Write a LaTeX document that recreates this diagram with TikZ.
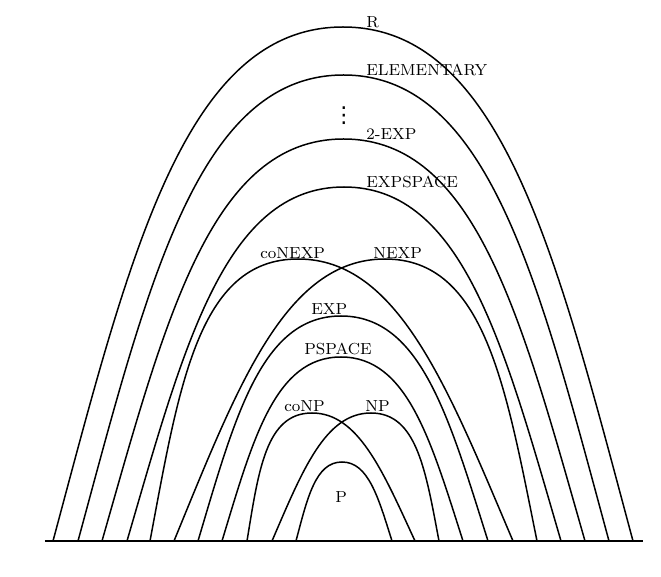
\documentclass[tikz,border=0pt]{standalone}
\usepackage{fontspec}
\newfontfamily\dvsfont{DejaVu Sans}
\begin{document}
\begin{tikzpicture}[x=0.5pt,y=-0.5pt,
  arcline/.style={line width=0.75pt,line join=round},
  lbl/.style={inner sep=0pt,anchor=base west,font=\fontsize{8}{10}\selectfont}]
\useasboundingbox (0,0) rectangle (661,577);
% #1 left foot, #2 right foot, #3 y of top, #4 sideways shift of the top
\newcommand{\cxarc}[4]{%
  \draw[arcline] (#1,541)
    .. controls ({#1+0.131*(#2-#1)+0.55*(#4)},{541-0.55*(541-#3)}) and ({(#1+#2)/2-0.275*(#2-#1)+(#4)},#3) .. ({(#1+#2)/2+(#4)},#3)
    .. controls ({(#1+#2)/2+0.275*(#2-#1)+(#4)},#3) and ({#2-0.131*(#2-#1)+0.55*(#4)},{541-0.55*(541-#3)}) .. (#2,541);}
% base line
\draw[arcline] (45,541) -- (643,541);
% arcs
\cxarc{53}{633}{27}{0}       % R
\cxarc{78}{609}{75}{0}       % ELEMENTARY
\cxarc{102}{585}{139}{0}     % 2-EXP
\cxarc{127}{561}{187}{0}     % EXPSPACE
\cxarc{150}{513}{259}{-33.5} % coNEXP
\cxarc{174}{537}{259}{29.5}  % NEXP
\cxarc{198}{488}{316}{-2}    % EXP
\cxarc{222}{463}{357}{-1.5}  % PSPACE
\cxarc{247}{415}{413}{-19}   % coNP
\cxarc{272}{439}{413}{15.5}  % NP
\cxarc{296}{392}{462}{-2}    % P
% labels
\node[lbl] (lR) at (366,28) {R};
\node[lbl] (lEL) at (366,76) {ELEMENTARY};
\node[inner sep=0pt,font=\dvsfont\fontsize{11}{11}\selectfont] (ldots) at (344,116) {⋮};
\node[lbl] (l2E) at (366,140) {2-EXP};
\node[lbl] (lES) at (366,188) {EXPSPACE};
\node[lbl] (lcoNE) at (260,259) {coNEXP};
\node[lbl] (lNE) at (373,259) {NEXP};
\node[lbl] (lEXP) at (311,315) {EXP};
\node[lbl] (lPS) at (304,355) {PSPACE};
\node[lbl] (lcoNP) at (284,412) {coNP};
\node[lbl] (lNP) at (365,412) {NP};
\node[lbl] (lP) at (335,503) {P};
\end{tikzpicture}
\end{document}
